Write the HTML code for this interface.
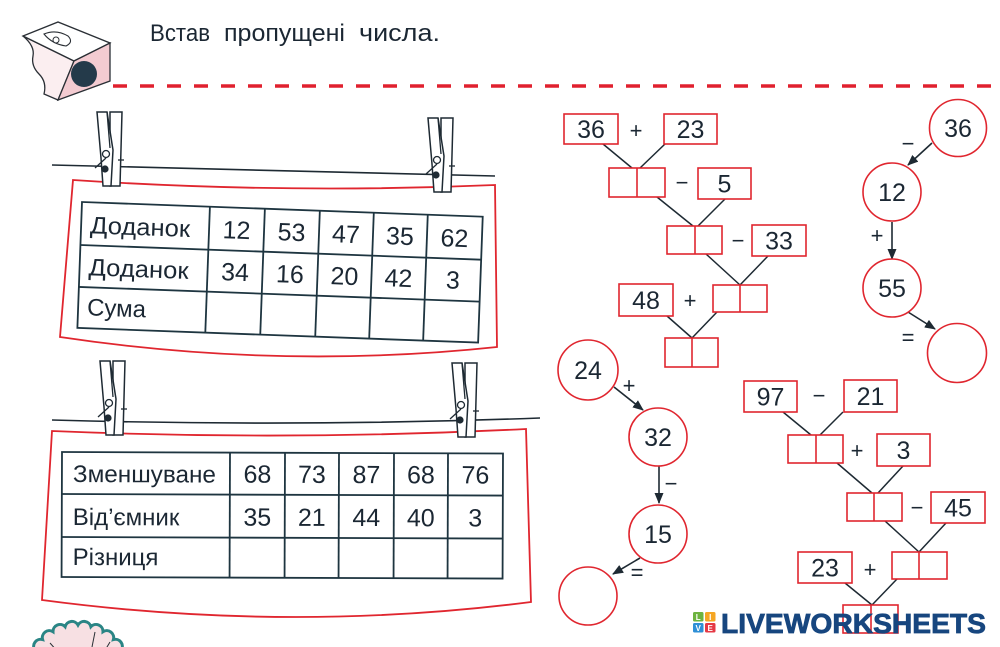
<!DOCTYPE html>
<html>
<head>
<meta charset="utf-8">
<style>
  html,body{margin:0;padding:0;background:#fff;}
  svg{display:block;}
  text{font-family:"Liberation Sans","DejaVu Sans",sans-serif;fill:#1b2733;}
</style>
</head>
<body>
<svg width="1000" height="647" viewBox="0 0 1000 647" xmlns="http://www.w3.org/2000/svg">
  <defs>
    <marker id="ah" markerUnits="userSpaceOnUse" markerWidth="11" markerHeight="9" refX="10" refY="4.5" orient="auto">
      <path d="M0,0 L11,4.5 L0,9 Z" fill="#1e2a33"/>
    </marker>
    <g id="pin">
      <polygon points="13,0 25,0 23,74 13,74" fill="#fff" stroke="#1e2a33" stroke-width="1.5"/>
      <polygon points="0,0 10,0 16,38 14,74 6,74 4,46" fill="#fff" stroke="#1e2a33" stroke-width="1.5"/>
      <line x1="10" y1="0" x2="13" y2="36" stroke="#1e2a33" stroke-width="1.3"/>
      <circle cx="9" cy="42" r="3.5" fill="#fff" stroke="#1e2a33" stroke-width="1.3"/>
      <circle cx="8" cy="57" r="3.6" fill="#1e2a33"/>
      <line x1="-2" y1="56" x2="9" y2="46" stroke="#1e2a33" stroke-width="1.3"/>
      <line x1="21" y1="48" x2="27" y2="48" stroke="#1e2a33" stroke-width="1.3"/>
    </g>
  </defs>

  <!-- Sharpener -->
  <path d="M23,36 L74,61 L58,100 L44,94 Q47,82 39,74 Q31,66 33,56 Q35,46 23,36 Z" fill="#fbeef0" stroke="#2a2f35" stroke-width="1.3"/>
  <polygon points="23,36 58,22 110,43 74,61" fill="#fff" stroke="#2a2f35" stroke-width="1.3"/>
  <path d="M44,34 Q56,29 68,36 Q74,42 66,46 Q52,44 44,34 Z" fill="#fff" stroke="#2a2f35" stroke-width="1.1"/>
  <circle cx="56" cy="40" r="3" fill="#fff" stroke="#2a2f35" stroke-width="1"/>
  <polygon points="74,61 110,43 110,81 58,100" fill="#f3cbd1" stroke="#2a2f35" stroke-width="1.3"/>
  <circle cx="84" cy="74" r="13" fill="#243a4a"/>

  <!-- Title -->
  <g font-size="24">
    <text x="150" y="41" textLength="60" lengthAdjust="spacingAndGlyphs">Встав</text>
    <text x="224" y="41" textLength="121" lengthAdjust="spacingAndGlyphs">пропущені</text>
    <text x="359" y="41" textLength="81" lengthAdjust="spacingAndGlyphs">числа.</text>
  </g>

  <!-- dashed line -->
  <line x1="113" y1="86" x2="1000" y2="86" stroke="#e0202e" stroke-width="3.5" stroke-dasharray="14 13"/>

  <!-- Table 1 rope/paper -->
  <path d="M52,165 Q270,171 495,176" fill="none" stroke="#1e2a33" stroke-width="1.6"/>
  <path d="M73,180 Q284,194 495,185 L497,347 Q280,370 60,337 Z" fill="#fff" stroke="#e0262f" stroke-width="1.8"/>
  <use href="#pin" x="97" y="112"/>
  <use href="#pin" x="428" y="118"/>

  <g transform="translate(82,202) rotate(2.1)" stroke="#1e3540" stroke-width="1.8" fill="none">
    <rect x="0" y="0" width="401" height="126"/>
    <line x1="0" y1="43" x2="401" y2="43"/>
    <line x1="0" y1="85" x2="401" y2="85"/>
    <line x1="128" y1="0" x2="128" y2="126"/>
    <line x1="183" y1="0" x2="183" y2="126"/>
    <line x1="238" y1="0" x2="238" y2="126"/>
    <line x1="292" y1="0" x2="292" y2="126"/>
    <line x1="346" y1="0" x2="346" y2="126"/>
    <g stroke="none" font-size="24">
      <text x="9" y="31" textLength="100" lengthAdjust="spacingAndGlyphs">Доданок</text>
      <text x="9" y="73" textLength="100" lengthAdjust="spacingAndGlyphs">Доданок</text>
      <text x="9" y="113">Сума</text>
      <g text-anchor="middle" font-size="25">
        <text x="155.5" y="31">12</text>
        <text x="210.5" y="31">53</text>
        <text x="265" y="31">47</text>
        <text x="319" y="31">35</text>
        <text x="373.5" y="31">62</text>
        <text x="155.5" y="73">34</text>
        <text x="210.5" y="73">16</text>
        <text x="265" y="73">20</text>
        <text x="319" y="73">42</text>
        <text x="373.5" y="73">3</text>
      </g>
    </g>
  </g>

  <!-- Table 2 rope/paper -->
  <path d="M52,420 Q300,427 540,418" fill="none" stroke="#1e2a33" stroke-width="1.6"/>
  <path d="M52,431 Q290,441 526,429 L531,602 Q290,633 42,600 Z" fill="#fff" stroke="#e0262f" stroke-width="1.8"/>
  <use href="#pin" x="100" y="361"/>
  <use href="#pin" x="452" y="363"/>

  <g transform="translate(62,452) rotate(0.2)" stroke="#1e3540" stroke-width="1.8" fill="none">
    <rect x="0" y="0" width="441" height="125"/>
    <line x1="0" y1="42" x2="441" y2="42"/>
    <line x1="0" y1="85" x2="441" y2="85"/>
    <line x1="168" y1="0" x2="168" y2="125"/>
    <line x1="223" y1="0" x2="223" y2="125"/>
    <line x1="277" y1="0" x2="277" y2="125"/>
    <line x1="332" y1="0" x2="332" y2="125"/>
    <line x1="386" y1="0" x2="386" y2="125"/>
    <g stroke="none" font-size="24">
      <text x="11" y="30" textLength="143" lengthAdjust="spacingAndGlyphs">Зменшуване</text>
      <text x="11" y="73">Від’ємник</text>
      <text x="11" y="113">Різниця</text>
      <g text-anchor="middle" font-size="25">
        <text x="195.5" y="30">68</text>
        <text x="250" y="30">73</text>
        <text x="304.5" y="30">87</text>
        <text x="359" y="30">68</text>
        <text x="413.5" y="30">76</text>
        <text x="195.5" y="73">35</text>
        <text x="250" y="73">21</text>
        <text x="304.5" y="73">44</text>
        <text x="359" y="73">40</text>
        <text x="413.5" y="73">3</text>
      </g>
    </g>
  </g>

  <!-- Bottom-left decoration -->
  <path d="M28,675 A7,7 0 0 1 29.7,662.1 A7,7 0 0 1 34.7,650 A7,7 0 0 1 42.6,639.6 A7,7 0 0 1 53,631.7 A7,7 0 0 1 65.1,626.7 A7,7 0 0 1 78,625 A7,7 0 0 1 90.9,626.7 A7,7 0 0 1 103,631.7 A7,7 0 0 1 113.4,639.6 A7,7 0 0 1 121.3,650 A7,7 0 0 1 126.3,662.1 A7,7 0 0 1 128,675 Z" fill="#f7e0e3" stroke="#2a8585" stroke-width="3"/>
  <line x1="50" y1="643" x2="58" y2="652" stroke="#2a2f35" stroke-width="1"/>
  <line x1="95" y1="632" x2="92" y2="647" stroke="#2a2f35" stroke-width="1"/>
  <line x1="110" y1="642" x2="104" y2="652" stroke="#2a2f35" stroke-width="1"/>

  <!-- Right diagram connectors -->
  <g stroke="#1e2a33" stroke-width="1.5" fill="none">
    <line x1="603" y1="144" x2="632" y2="168"/>
    <line x1="665" y1="144" x2="640" y2="168"/>
    <line x1="657" y1="197" x2="693" y2="226"/>
    <line x1="725" y1="199" x2="698" y2="226"/>
    <line x1="706" y1="254" x2="740" y2="285"/>
    <line x1="768" y1="256" x2="740" y2="285"/>
    <line x1="667" y1="316" x2="692" y2="338"/>
    <line x1="717" y1="312" x2="692" y2="338"/>
    <line x1="783" y1="412" x2="811" y2="435"/>
    <line x1="843" y1="412" x2="820" y2="435"/>
    <line x1="837" y1="463" x2="872" y2="493"/>
    <line x1="903" y1="466" x2="878" y2="493"/>
    <line x1="885" y1="521" x2="919" y2="552"/>
    <line x1="946" y1="523" x2="919" y2="552"/>
    <line x1="845" y1="583" x2="872" y2="605"/>
    <line x1="897" y1="579" x2="872" y2="605"/>
  </g>

  <!-- boxes -->
  <g stroke="#e0262f" stroke-width="1.6" fill="#fff">
    <rect x="564" y="114" width="54" height="30"/>
    <rect x="664" y="114" width="53" height="30"/>
    <rect x="698" y="168" width="53" height="31"/>
    <rect x="752" y="225" width="54" height="31"/>
    <rect x="619" y="284" width="54" height="32"/>
    <rect x="744" y="381" width="53" height="31"/>
    <rect x="844" y="380" width="53" height="32"/>
    <rect x="877" y="434" width="53" height="32"/>
    <rect x="931" y="492" width="54" height="31"/>
    <rect x="798" y="552" width="54" height="31"/>

    <rect x="609" y="168" width="56" height="29"/><line x1="637" y1="168" x2="637" y2="197"/>
    <rect x="667" y="226" width="55" height="28"/><line x1="695" y1="226" x2="695" y2="254"/>
    <rect x="713" y="285" width="54" height="27"/><line x1="740" y1="285" x2="740" y2="312"/>
    <rect x="665" y="338" width="53" height="29"/><line x1="692" y1="338" x2="692" y2="367"/>
    <rect x="788" y="435" width="55" height="28"/><line x1="816" y1="435" x2="816" y2="463"/>
    <rect x="847" y="493" width="55" height="28"/><line x1="874" y1="493" x2="874" y2="521"/>
    <rect x="892" y="552" width="55" height="27"/><line x1="919" y1="552" x2="919" y2="579"/>
    <rect x="843" y="605" width="55" height="28"/><line x1="871" y1="605" x2="871" y2="633"/>
  </g>

  <g font-size="25" text-anchor="middle">
    <text x="591" y="138">36</text>
    <text x="690.5" y="138">23</text>
    <text x="724.5" y="192.5">5</text>
    <text x="779" y="249.5">33</text>
    <text x="646" y="309">48</text>
    <text x="770.5" y="405.5">97</text>
    <text x="870.5" y="405">21</text>
    <text x="903.5" y="459">3</text>
    <text x="958" y="516.5">45</text>
    <text x="825" y="576.5">23</text>
  </g>

  <!-- operators -->
  <g font-size="22" text-anchor="middle" style="fill:#2a3540">
    <text x="636" y="138">+</text>
    <text x="682" y="190">−</text>
    <text x="738" y="248">−</text>
    <text x="690" y="308">+</text>
    <text x="819" y="403">−</text>
    <text x="857" y="458">+</text>
    <text x="917" y="515">−</text>
    <text x="870" y="577">+</text>

    <text x="908" y="151">−</text>
    <text x="877" y="243">+</text>
    <text x="908" y="345">=</text>
    <text x="629" y="393">+</text>
    <text x="671" y="491">−</text>
    <text x="637" y="580">=</text>
  </g>

  <!-- arrows -->
  <g stroke="#1e2a33" stroke-width="1.6" fill="none">
    <line x1="932" y1="143" x2="908" y2="165" marker-end="url(#ah)"/>
    <line x1="892" y1="222" x2="892" y2="259" marker-end="url(#ah)"/>
    <line x1="908" y1="312" x2="935" y2="329" marker-end="url(#ah)"/>
    <line x1="614" y1="387" x2="643" y2="410" marker-end="url(#ah)"/>
    <line x1="659" y1="466" x2="659" y2="503" marker-end="url(#ah)"/>
    <line x1="640" y1="558" x2="613" y2="574" marker-end="url(#ah)"/>
  </g>

  <!-- circles -->
  <g stroke="#e0262f" stroke-width="1.6" fill="#fff">
    <circle cx="958" cy="128" r="28.5"/>
    <circle cx="892" cy="192" r="29"/>
    <circle cx="892" cy="288" r="29"/>
    <circle cx="957" cy="353" r="29.5"/>
    <circle cx="588" cy="370" r="30"/>
    <circle cx="658" cy="437" r="29"/>
    <circle cx="658" cy="534" r="29"/>
    <circle cx="588" cy="596" r="29"/>
  </g>
  <g font-size="25" text-anchor="middle">
    <text x="958" y="137">36</text>
    <text x="892" y="201">12</text>
    <text x="892" y="297">55</text>
    <text x="588" y="379">24</text>
    <text x="658" y="446">32</text>
    <text x="658" y="543">15</text>
  </g>

  <!-- Liveworksheets logo -->
  <g>
    <rect x="693" y="612" width="10.5" height="9.5" rx="1.5" fill="#6db33f"/>
    <rect x="705" y="612" width="10.5" height="9.5" rx="1.5" fill="#f5a623"/>
    <rect x="693" y="623" width="10.5" height="9.5" rx="1.5" fill="#2e8fd6"/>
    <rect x="705" y="623" width="10.5" height="9.5" rx="1.5" fill="#e53945"/>
    <g font-size="8" font-weight="bold" text-anchor="middle">
      <text x="698.2" y="620" style="fill:#fff">L</text>
      <text x="710.2" y="620" style="fill:#fff">I</text>
      <text x="698.2" y="631" style="fill:#fff">V</text>
      <text x="710.2" y="631" style="fill:#fff">E</text>
    </g>
    <text x="721" y="633" font-size="28" font-weight="bold" textLength="265" lengthAdjust="spacingAndGlyphs" style="fill:#17467f;stroke:#17467f;stroke-width:0.8">LIVEWORKSHEETS</text>
  </g>
</svg>
</body>
</html>
